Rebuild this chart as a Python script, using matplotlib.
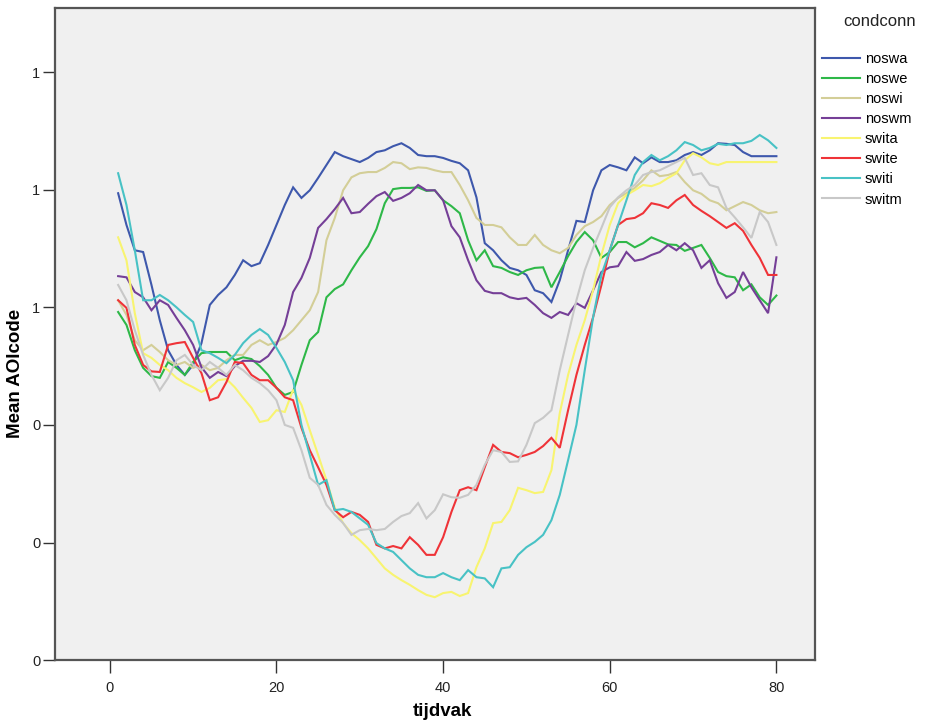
import numpy as np
import matplotlib
matplotlib.use("Agg")
import matplotlib.pyplot as plt
from matplotlib.ticker import FormatStrFormatter

plt.rcParams['font.family'] = ['Liberation Sans', 'DejaVu Sans']

# Mean AOIcode per time slot (tijdvak 1..80) for each condconn group
noswa = [0.794, 0.740, 0.697, 0.694, 0.638, 0.578, 0.527, 0.502, 0.485, 0.502,
         0.539, 0.604, 0.621, 0.634, 0.655, 0.680, 0.670, 0.675, 0.706, 0.740,
         0.774, 0.804, 0.786, 0.799, 0.820, 0.842, 0.864, 0.857, 0.852, 0.847,
         0.854, 0.864, 0.867, 0.874, 0.879, 0.871, 0.859, 0.857, 0.857, 0.854,
         0.849, 0.845, 0.833, 0.787, 0.709, 0.697, 0.680, 0.667, 0.663, 0.655,
         0.629, 0.624, 0.609, 0.646, 0.697, 0.747, 0.745, 0.799, 0.833, 0.842,
         0.838, 0.833, 0.855, 0.845, 0.855, 0.847, 0.847, 0.850, 0.859, 0.864,
         0.859, 0.867, 0.879, 0.878, 0.876, 0.864, 0.857, 0.857, 0.857, 0.857]

noswe = [0.592, 0.570, 0.527, 0.497, 0.483, 0.480, 0.507, 0.497, 0.485, 0.507,
         0.522, 0.524, 0.524, 0.524, 0.510, 0.515, 0.512, 0.500, 0.485, 0.463,
         0.451, 0.456, 0.502, 0.544, 0.558, 0.617, 0.631, 0.639, 0.663, 0.685,
         0.704, 0.733, 0.777, 0.801, 0.803, 0.803, 0.804, 0.798, 0.799, 0.782,
         0.772, 0.760, 0.714, 0.680, 0.697, 0.670, 0.667, 0.660, 0.655, 0.663,
         0.667, 0.668, 0.634, 0.660, 0.687, 0.711, 0.728, 0.714, 0.684, 0.694,
         0.711, 0.711, 0.702, 0.709, 0.719, 0.713, 0.707, 0.706, 0.696, 0.701,
         0.706, 0.684, 0.660, 0.653, 0.651, 0.629, 0.639, 0.617, 0.604, 0.620]

noswi = [0.612, 0.587, 0.544, 0.527, 0.536, 0.524, 0.510, 0.502, 0.507, 0.497,
         0.502, 0.493, 0.497, 0.510, 0.519, 0.519, 0.536, 0.544, 0.536, 0.541,
         0.548, 0.561, 0.578, 0.595, 0.626, 0.714, 0.752, 0.799, 0.821, 0.828,
         0.830, 0.830, 0.837, 0.847, 0.845, 0.835, 0.838, 0.837, 0.833, 0.830,
         0.830, 0.808, 0.782, 0.752, 0.740, 0.740, 0.736, 0.719, 0.706, 0.706,
         0.723, 0.706, 0.697, 0.692, 0.701, 0.723, 0.738, 0.745, 0.755, 0.774,
         0.786, 0.794, 0.803, 0.816, 0.833, 0.823, 0.825, 0.830, 0.813, 0.799,
         0.793, 0.782, 0.777, 0.765, 0.772, 0.779, 0.774, 0.765, 0.760, 0.762]

noswm = [0.653, 0.651, 0.626, 0.617, 0.595, 0.612, 0.604, 0.582, 0.561, 0.536,
         0.498, 0.480, 0.490, 0.483, 0.500, 0.509, 0.509, 0.507, 0.517, 0.537,
         0.570, 0.626, 0.650, 0.684, 0.735, 0.750, 0.767, 0.786, 0.760, 0.762,
         0.776, 0.789, 0.796, 0.781, 0.786, 0.794, 0.808, 0.799, 0.799, 0.782,
         0.738, 0.719, 0.680, 0.646, 0.628, 0.624, 0.624, 0.617, 0.614, 0.616,
         0.604, 0.590, 0.582, 0.592, 0.587, 0.607, 0.599, 0.629, 0.660, 0.668,
         0.670, 0.694, 0.679, 0.682, 0.689, 0.694, 0.706, 0.697, 0.709, 0.697,
         0.667, 0.680, 0.641, 0.616, 0.626, 0.660, 0.634, 0.612, 0.590, 0.685]

swita = [0.719, 0.680, 0.590, 0.522, 0.514, 0.502, 0.493, 0.480, 0.471, 0.464,
         0.456, 0.463, 0.476, 0.478, 0.464, 0.446, 0.429, 0.405, 0.408, 0.425,
         0.422, 0.460, 0.434, 0.391, 0.349, 0.306, 0.259, 0.233, 0.216, 0.204,
         0.190, 0.173, 0.156, 0.145, 0.136, 0.128, 0.119, 0.111, 0.107, 0.114,
         0.116, 0.109, 0.114, 0.158, 0.190, 0.233, 0.235, 0.255, 0.293, 0.289,
         0.284, 0.286, 0.323, 0.420, 0.485, 0.536, 0.578, 0.629, 0.689, 0.740,
         0.777, 0.791, 0.799, 0.808, 0.806, 0.811, 0.820, 0.828, 0.850, 0.862,
         0.855, 0.845, 0.842, 0.847, 0.847, 0.847, 0.847, 0.847, 0.847, 0.847]

swite = [0.612, 0.599, 0.536, 0.502, 0.491, 0.490, 0.536, 0.539, 0.541, 0.514,
         0.488, 0.442, 0.447, 0.473, 0.507, 0.505, 0.485, 0.476, 0.476, 0.463,
         0.447, 0.442, 0.395, 0.357, 0.328, 0.298, 0.255, 0.243, 0.252, 0.247,
         0.235, 0.196, 0.190, 0.194, 0.190, 0.209, 0.196, 0.179, 0.179, 0.209,
         0.252, 0.289, 0.294, 0.289, 0.328, 0.366, 0.354, 0.352, 0.345, 0.349,
         0.354, 0.364, 0.378, 0.361, 0.425, 0.485, 0.536, 0.583, 0.638, 0.697,
         0.740, 0.750, 0.752, 0.760, 0.777, 0.774, 0.769, 0.782, 0.791, 0.774,
         0.764, 0.755, 0.745, 0.735, 0.743, 0.730, 0.706, 0.684, 0.655, 0.655]

switi = [0.828, 0.774, 0.697, 0.612, 0.612, 0.621, 0.612, 0.600, 0.587, 0.575,
         0.527, 0.522, 0.514, 0.505, 0.519, 0.539, 0.553, 0.563, 0.553, 0.531,
         0.507, 0.476, 0.400, 0.349, 0.298, 0.306, 0.255, 0.257, 0.252, 0.241,
         0.230, 0.199, 0.190, 0.184, 0.170, 0.156, 0.145, 0.141, 0.141, 0.148,
         0.141, 0.136, 0.153, 0.141, 0.139, 0.124, 0.156, 0.158, 0.179, 0.192,
         0.201, 0.213, 0.238, 0.281, 0.340, 0.400, 0.493, 0.583, 0.655, 0.697,
         0.740, 0.782, 0.825, 0.847, 0.859, 0.850, 0.857, 0.867, 0.881, 0.876,
         0.867, 0.871, 0.878, 0.876, 0.879, 0.879, 0.883, 0.893, 0.884, 0.871]

switm = [0.638, 0.612, 0.561, 0.519, 0.485, 0.459, 0.480, 0.510, 0.519, 0.502,
         0.493, 0.507, 0.497, 0.485, 0.502, 0.493, 0.480, 0.471, 0.459, 0.442,
         0.400, 0.395, 0.357, 0.310, 0.298, 0.264, 0.247, 0.233, 0.213, 0.221,
         0.223, 0.221, 0.223, 0.235, 0.245, 0.250, 0.267, 0.241, 0.255, 0.282,
         0.277, 0.276, 0.281, 0.298, 0.332, 0.357, 0.354, 0.337, 0.338, 0.366,
         0.403, 0.412, 0.425, 0.493, 0.553, 0.612, 0.663, 0.701, 0.735, 0.770,
         0.787, 0.799, 0.808, 0.825, 0.830, 0.833, 0.840, 0.847, 0.854, 0.825,
         0.828, 0.808, 0.804, 0.769, 0.753, 0.736, 0.718, 0.762, 0.745, 0.706]

series_names = ["noswa", "noswe", "noswi", "noswm", "swita", "swite", "switi", "switm"]
series_values = [noswa, noswe, noswi, noswm, swita, swite, switi, switm]
series_colors = ["#3e58ac", "#2eb848", "#d3ce97", "#753f97",
                 "#f8f470", "#ef3338", "#48c2c5", "#c8c8c8"]

x_ticks = [0, 20, 40, 60, 80]
y_ticks = [0.0, 0.2, 0.4, 0.6, 0.8, 1.0]

fig = plt.figure(figsize=(9.29, 7.27), dpi=100)
fig.patch.set_facecolor("white")
ax = fig.add_axes([0.059, 0.092, 0.818, 0.897])
ax.set_facecolor("#f0f0f0")

for name, vals, col in zip(series_names, series_values, series_colors):
    t = np.arange(1, len(vals) + 1)
    ax.plot(t, vals, color=col, lw=1.5, label=name, solid_joinstyle="miter")

ax.set_xlim(-6.6, 84.6)
ax.set_ylim(0, 1.109)
ax.set_xticks(x_ticks)
ax.set_yticks(y_ticks)
ax.yaxis.set_major_formatter(FormatStrFormatter("%.0f"))
ax.tick_params(axis="both", direction="out", length=9, width=1.0,
               color="#333333", labelsize=10.5, labelcolor="#222222")
ax.tick_params(axis="x", pad=6)
ax.tick_params(axis="y", pad=1.5)

for sp in ax.spines.values():
    sp.set_color("#555555")
    sp.set_linewidth(1.6)

ax.set_xlabel("tijdvak", fontsize=13.5, fontweight="bold", va="top")
ax.xaxis.set_label_coords(0.51, -0.066)
ax.set_ylabel("Mean AOIcode", fontsize=13.5, fontweight="bold")
ax.yaxis.set_label_coords(-0.04, 0.44)

# legend title placed on its own, entries listed below it
fig.text(880 / 929, 1 - 21 / 727, "condconn", ha="center", va="center",
         fontsize=12, color="#222222")
leg = fig.legend(loc="upper left", bbox_to_anchor=(0.879, 0.937),
                 frameon=False, fontsize=10.5, handlelength=2.6,
                 handletextpad=0.3, labelspacing=0.42, borderaxespad=0.0)
for line in leg.get_lines():
    line.set_linewidth(1.5)

fig.savefig("out.png", dpi=100, facecolor="white")
